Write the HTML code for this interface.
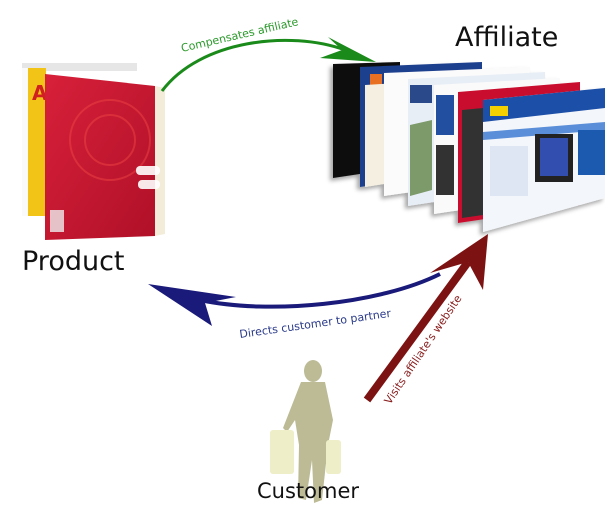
<!DOCTYPE html>
<html><head><style>
html,body{margin:0;padding:0;background:#fff;}
svg{display:block;}
text{font-family:"DejaVu Sans","Liberation Sans",sans-serif;}
</style></head><body>
<svg width="605" height="529" viewBox="0 0 605 529" xmlns="http://www.w3.org/2000/svg">
<defs>
<filter id="sh" x="-20%" y="-20%" width="140%" height="140%"><feDropShadow dx="-3" dy="3" stdDeviation="2" flood-opacity="0.35"/></filter>
<linearGradient id="red" x1="0" y1="0" x2="1" y2="1"><stop offset="0" stop-color="#d8203a"/><stop offset="1" stop-color="#b01028"/></linearGradient>
</defs>
<!-- Product boxes -->
<rect x="22" y="63" width="115" height="8" fill="#e6e6e6"/>
<rect x="22" y="68" width="24" height="148" fill="#f2c418"/>
<rect x="22" y="68" width="6" height="148" fill="#fafafa"/>
<text x="32" y="100" font-size="20" fill="#d02020" font-weight="bold">A</text>
<polygon points="45,74 155,86 155,236 45,240" fill="url(#red)"/>
<polygon points="155,86 165,88 165,234 155,236" fill="#f3ecd8"/>
<circle cx="110" cy="140" r="40" fill="none" stroke="#e44" stroke-width="2" opacity="0.5"/>
<circle cx="110" cy="140" r="25" fill="none" stroke="#e44" stroke-width="2" opacity="0.5"/>
<rect x="136" y="166" width="24" height="9" rx="4" fill="#fff" opacity="0.9"/>
<rect x="138" y="180" width="22" height="9" rx="4" fill="#fff" opacity="0.9"/>
<rect x="50" y="210" width="14" height="22" fill="#eee" opacity="0.8"/>
<text x="22" y="270" font-size="27" fill="#111">Product</text>
<text x="455" y="46" font-size="27" fill="#111">Affiliate</text>
<!-- Sites -->
<g filter="url(#sh)">
<polygon points="333,64 400,62 400,168 333,178" fill="#111"/>
<polygon points="360,67 482,62 482,168 360,187" fill="#1e3f8e"/>
<rect x="370" y="74" width="12" height="16" fill="#e87020"/>
<polygon points="365,85 482,78 482,168 365,187" fill="#f4efe0"/>
<polygon points="384,73 530,67 530,175 384,196" fill="#fbfbfb"/>
<polygon points="408,79 545,72 545,185 408,206" fill="#e8eef6"/>
<rect x="410" y="85" width="22" height="18" fill="#2a4a8a"/>
<polygon points="410,125 432,120 432,190 410,196" fill="#7c9a6a"/>
<polygon points="434,85 560,78 560,195 434,214" fill="#fafafa"/>
<rect x="436" y="95" width="18" height="40" fill="#2050a0"/>
<rect x="436" y="145" width="18" height="50" fill="#333"/>
<polygon points="458,92 580,82 580,205 458,223" fill="#c8102e"/>
<polygon points="462,110 483,108 483,215 462,218" fill="#333"/>
<polygon points="483,100 605,88 605,198 483,232" fill="#f3f6fb"/>
<polygon points="483,100 605,88 605,108 483,122" fill="#1d4fa8"/>
<rect x="490" y="106" width="18" height="10" fill="#f5d000"/>
<polygon points="483,132 605,122 605,130 483,140" fill="#5a8ed8"/>
<rect x="535" y="134" width="38" height="48" fill="#222"/>
<rect x="540" y="138" width="28" height="38" fill="#3050b0"/>
<rect x="578" y="130" width="27" height="45" fill="#1e5ab0"/>
<rect x="490" y="146" width="38" height="50" fill="#dde6f2"/>
</g>
<!-- Green arrow -->
<path d="M162,91 C200,40 290,30 345,50" fill="none" stroke="#1a8a1a" stroke-width="3"/>
<polygon points="376,62 328,37 342,50 320,58" fill="#1a8a1a"/>
<text font-size="11" fill="#2a9a2a" transform="translate(182,52) rotate(-13)">Compensates affiliate</text>
<!-- Blue arrow -->
<path d="M440,274 C380,304 270,315 200,300" fill="none" stroke="#1a1a7a" stroke-width="4"/>
<polygon points="148,284 236,297 205,303 212,326" fill="#1a1a7a"/>
<text font-size="11" fill="#2a3a8a" transform="translate(240,338) rotate(-8)">Directs customer to partner</text>
<!-- Red arrow -->
<line x1="367" y1="400" x2="468" y2="262" stroke="#7d1212" stroke-width="8"/>
<polygon points="488,234 430,273 468,262 483,290" fill="#7d1212"/>
<text font-size="11" fill="#8a2020" transform="translate(390,405) rotate(-56)">Visits affiliate's website</text>
<!-- Customer -->
<g fill="#b9b891" opacity="0.95">
<ellipse cx="313" cy="371" rx="9" ry="11"/>
<path d="M301,382 L325,382 L333,420 L328,445 L322,500 L314,503 L312,460 L306,500 L298,498 L299,445 L295,420 L287,432 L283,428 Z"/>
</g>
<rect x="270" y="430" width="24" height="44" rx="3" fill="#eeeec8"/>
<rect x="326" y="440" width="15" height="34" rx="3" fill="#eeeec8"/>
<text x="257" y="498" font-size="21" fill="#111">Customer</text>
</svg>
</body></html>
